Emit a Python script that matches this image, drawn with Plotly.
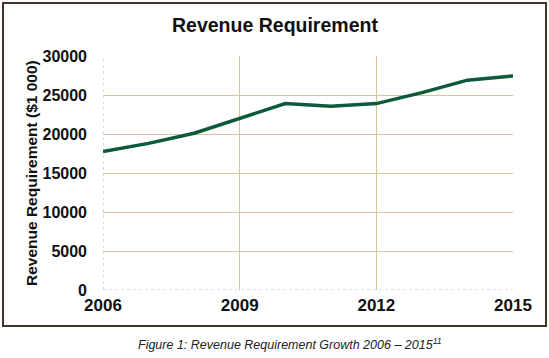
import plotly.graph_objects as go

years = [2006, 2007, 2008, 2009, 2010, 2011, 2012, 2013, 2014, 2015]
revenue = [17750, 18800, 20100, 22050, 23900, 23550, 23900, 25300, 26900, 27450]
x_ticks = [2006, 2009, 2012, 2015]
y_ticks = [0, 5000, 10000, 15000, 20000, 25000, 30000]

W, H = 549, 358
L, R, T, B = 103, 36, 56, 68
pw, ph = W - L - R, H - T - B

def px(x):
    return (x - L) / pw

def py(y):
    return (H - B - y) / ph

FONT = "Liberation Sans, Arial, sans-serif"
GRID = "#d5c697"

fig = go.Figure()
fig.add_trace(go.Scatter(
    x=years, y=revenue, mode="lines",
    line=dict(color="#0d5a3a", width=3.5),
    hoverinfo="x+y", showlegend=False,
))

fig.update_layout(
    width=W, height=H,
    margin=dict(l=L, r=R, t=T, b=B, pad=0),
    paper_bgcolor="white", plot_bgcolor="white",
    font=dict(family=FONT, color="#111111"),
    xaxis=dict(
        range=[2006, 2015], tickvals=x_ticks, ticktext=[str(v) for v in x_ticks],
        showgrid=True, gridcolor=GRID, gridwidth=1, zeroline=False,
        showline=False, ticks="", ticklabelstandoff=3,
        tickfont=dict(family=FONT, size=17, color="#111111", weight="bold"),
    ),
    yaxis=dict(
        range=[0, 30000], tickvals=y_ticks, ticktext=[str(v) for v in y_ticks],
        showgrid=True, gridcolor=GRID, gridwidth=1, zeroline=False,
        showline=False, ticks="", ticklabelstandoff=15,
        tickfont=dict(family=FONT, size=16, color="#111111", weight="bold"),
    ),
    shapes=[
        dict(type="line", xref="x", yref="paper", x0=2006, x1=2006, y0=0, y1=1,
             line=dict(color="white", width=1.5), layer="below"),
        dict(type="line", xref="paper", yref="y", x0=0, x1=1, y0=0, y1=0,
             line=dict(color="white", width=1.5), layer="below"),
        dict(type="line", xref="x", yref="paper", x0=2006, x1=2006, y0=0, y1=1,
             line=dict(color="#b8b8c8", width=1, dash="dot"), layer="below"),
        dict(type="line", xref="paper", yref="y", x0=0, x1=1, y0=0, y1=0,
             line=dict(color="#b8b8c8", width=1, dash="dot"), layer="below"),
        dict(type="rect", xref="paper", yref="paper",
             x0=px(3), x1=px(546), y0=py(326), y1=py(3),
             line=dict(color="#3d3628", width=2), fillcolor="rgba(0,0,0,0)"),
    ],
    annotations=[
        dict(text="<b>Revenue Requirement</b>", xref="paper", yref="paper",
             x=px(275), y=py(25), xanchor="center", yanchor="middle",
             showarrow=False, font=dict(family=FONT, size=19.5, color="#111111")),
        dict(text="<b>Revenue Requirement ($1 000)</b>", xref="paper", yref="paper",
             x=px(31), y=py(173), xanchor="center", yanchor="middle", textangle=-90,
             showarrow=False, font=dict(family=FONT, size=15.5, color="#111111")),
        dict(text="<i>Figure 1: Revenue Requirement Growth 2006 \u2013 2015<sup>11</sup></i>",
             xref="paper", yref="paper",
             x=px(290), y=py(344), xanchor="center", yanchor="middle",
             showarrow=False, font=dict(family=FONT, size=12.5, color="#222222")),
    ],
)

fig.write_html("out.html", post_script="document.body.style.margin='0';",
               config={"displayModeBar": False})
